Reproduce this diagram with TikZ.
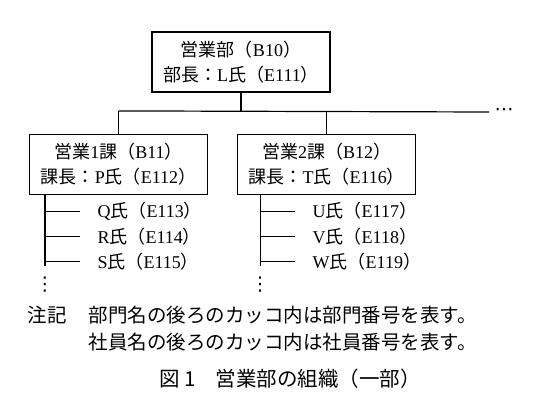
\documentclass[tikz,border=0pt]{standalone}
\usepackage{fontspec}
\setmainfont{Liberation Serif}
\newfontfamily\jp{Noto Sans CJK JP}
\newfontfamily\sym{DejaVu Sans}
\usepackage{tikz}
\usetikzlibrary{positioning}
\newcommand{\bango}[1]{（\textrm{#1}）}
\newcommand{\shain}[2]{\textrm{#1}氏\bango{#2}}

\begin{document}
\begin{tikzpicture}[x=1pt, y=1pt, line width=1.2pt, node distance=0pt,
  dept/.style={draw, minimum width=178pt, minimum height=60pt, inner sep=0pt, align=center, font=\jp\fontsize{18}{25}\selectfont},
  mem/.style={anchor=west, inner xsep=17pt, inner ysep=0pt, minimum height=24pt, font=\jp\fontsize{18}{24}\selectfont},
  note/.style={anchor=west, inner sep=0pt, font=\jp\fontsize{19.5}{27}\selectfont},
  dots/.style={inner sep=0pt, font=\sym\fontsize{19}{19}\selectfont}]
  \useasboundingbox (0,0) rectangle (549,-408);
  \node (bu) [dept] at (241,-62) {営業部\bango{B10}\\部長：\shain{L}{E111}};
  \node (ka1) [dept] at (118.5,-164.5) {営業\textrm{1}課\bango{B11}\\課長：\shain{P}{E112}};
  \node (ka2) [dept, right=29pt of ka1] {営業\textrm{2}課\bango{B12}\\課長：\shain{T}{E116}};
  \coordinate (hl) at ([yshift=23pt]ka1.north);
  \coordinate (hr) at (489,-112);
  \node (etc) [dots, right=5pt of hr] {⋯};
  \draw (bu.south) -- (bu.south |- hl);
  \draw (hl) -- (hr);
  \draw (ka1.north) -- (hl);
  \draw (ka2.north) -- (ka2.north |- hl);

  \coordinate (t1) at ([xshift=16pt]ka1.south west);
  \node (q) [mem] at ([xshift=35pt, yshift=-16pt]t1) {\shain{Q}{E113}};
  \node (r) [mem, below right=of q.south west] {\shain{R}{E114}};
  \node (s) [mem, below right=of r.south west] {\shain{S}{E115}};
  \coordinate (e1) at (t1 |- s.west);
  \draw (t1) -- ([yshift=-4pt]e1);
  \draw (q.west -| t1) -- (q.west);
  \draw (r.west -| t1) -- (r.west);
  \draw (s.west -| t1) -- (s.west);
  \node (v1) [dots] at ([yshift=-23pt]e1) {⋮};

  \coordinate (t2) at ([xshift=23pt]ka2.south west);
  \node (u) [mem] at ([xshift=35pt, yshift=-16pt]t2) {\shain{U}{E117}};
  \node (v) [mem, below right=of u.south west] {\shain{V}{E118}};
  \node (w) [mem, below right=of v.south west] {\shain{W}{E119}};
  \coordinate (e2) at (t2 |- w.west);
  \draw (t2) -- ([yshift=-4pt]e2);
  \draw (u.west -| t2) -- (u.west);
  \draw (v.west -| t2) -- (v.west);
  \draw (w.west -| t2) -- (w.west);
  \node (v2) [dots] at ([yshift=-23pt]e2) {⋮};

  \node (chuki) [note] at (27,-315) {注記};
  \node (n1) [note, right=21pt of chuki] {部門名の後ろのカッコ内は部門番号を表す。};
  \node (n2) [note] at ([yshift=-27pt]n1.west) {社員名の後ろのカッコ内は社員番号を表す。};
  \node (zu) [font=\jp\fontsize{20.5}{24}\selectfont] at (290,-379) {図 1　営業部の組織（一部）};
\end{tikzpicture}
\end{document}
